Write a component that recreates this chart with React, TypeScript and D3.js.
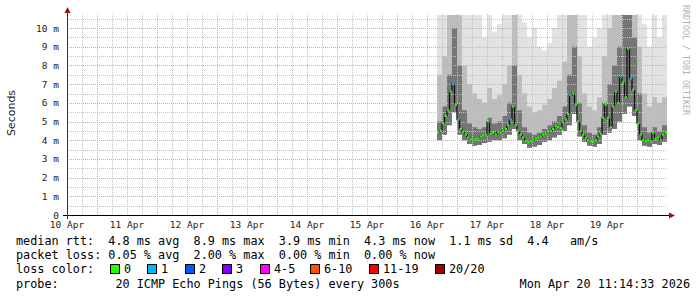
import React from "react";
import * as d3 from "d3";

// ---------- data ----------
const xDayLabels = ["10 Apr", "11 Apr", "12 Apr", "13 Apr", "14 Apr", "15 Apr", "16 Apr", "17 Apr", "18 Apr", "19 Apr"];
const yTickValues = [0, 1, 2, 3, 4, 5, 6, 7, 8, 9, 10];
const yTickLabels = ["0", "1 m", "2 m", "3 m", "4 m", "5 m", "6 m", "7 m", "8 m", "9 m", "10 m"];

// hours since 10 Apr 12:00, one value per hour
const medianStartHour = 148;
const medianRtt = [
  4.4, 4.5, 4.9, 5.3, 5.6, 6.6, 7.0, 5.9, 5.1, 4.6,
  4.45, 4.3, 4.15, 4.05, 4.0, 4.05, 4.1, 4.2, 4.25, 4.3,
  5.0, 4.35, 4.4, 4.3, 4.45, 4.4, 4.5, 4.6, 4.8, 5.1,
  5.8, 4.8, 4.5, 4.3, 4.15, 3.95, 3.9, 3.95, 4.0, 4.1,
  4.15, 4.2, 4.3, 4.35, 4.45, 4.5, 4.6, 4.75, 4.7, 4.65,
  4.95, 5.1, 5.4, 6.4, 6.5, 5.9, 5.0, 4.5, 4.3, 4.1,
  4.0, 3.95, 3.95, 4.0, 4.2, 4.35, 5.2, 5.9, 5.2, 4.7,
  5.8, 6.6, 6.0, 7.4, 7.1, 6.3, 8.9, 7.3, 6.7, 5.6,
  4.9, 4.3, 4.0, 3.95, 4.0, 3.95, 4.4, 4.1, 4.15, 4.0,
  4.3, 4.4,
];
const lossCount = [
  0, 0, 0, 0, 0, 0, 1, 0, 1, 0,
  0, 0, 0, 0, 0, 0, 0, 0, 0, 0,
  0, 0, 0, 0, 0, 0, 0, 0, 0, 1,
  0, 0, 0, 0, 0, 0, 0, 0, 0, 0,
  0, 0, 0, 0, 0, 0, 0, 0, 0, 0,
  0, 0, 0, 1, 0, 0, 0, 0, 0, 0,
  0, 0, 0, 0, 0, 0, 0, 0, 0, 0,
  0, 0, 0, 1, 0, 0, 0, 1, 0, 0,
  0, 0, 0, 0, 0, 0, 0, 0, 0, 0,
  0, 0,
];

// smoke, one value per 2 hours
const smokeStartHour = 148;
const smokeStepHours = 2;
const smokeLow = [
  4.0, 4.3, 4.8, 5.5, 4.3, 4.0, 3.8, 3.7, 3.75, 3.85,
  3.9, 4.0, 4.0, 4.1, 4.3, 4.6, 4.0, 3.8, 3.6, 3.65,
  3.75, 3.9, 4.0, 4.15, 4.3, 4.5, 4.8, 5.4, 4.2, 3.9,
  3.7, 3.65, 3.8, 4.3, 4.4, 4.6, 5.0, 5.4, 5.8, 5.3,
  4.0, 3.7, 3.65, 3.8, 3.75, 3.9,
];
const smokeDark = [
  5.0, 5.8, 7.5, 10.0, 8.0, 5.6, 4.9, 4.7, 4.6, 4.7,
  5.2, 4.9, 5.0, 5.3, 6.0, 8.0, 5.6, 4.7, 4.4, 4.3,
  4.4, 4.6, 4.8, 5.0, 5.3, 5.8, 7.5, 9.0, 6.0, 4.8,
  4.4, 4.3, 4.7, 6.0, 7.0, 8.0, 9.0, 10.7, 10.7, 9.5,
  6.5, 4.7, 4.4, 4.7, 4.5, 4.8,
];
const smokeMid = [
  7.5, 8.5, 10.7, 10.7, 10.7, 8.0, 7.0, 6.5, 6.2, 6.0,
  6.8, 6.2, 6.4, 7.0, 8.0, 10.7, 7.5, 6.5, 5.8, 5.5,
  5.6, 5.9, 6.2, 6.8, 7.2, 8.2, 10.7, 10.7, 8.5, 6.5,
  5.8, 5.6, 6.3, 8.5, 10.0, 10.7, 10.7, 10.7, 10.7, 10.7,
  9.0, 6.5, 5.8, 6.3, 6.0, 6.3,
];
const smokeMax = [
  10.7, 10.7, 10.7, 10.7, 10.7, 10.7, 10.7, 10.7, 10.7, 9.5,
  10.7, 9.8, 10.2, 10.7, 10.7, 10.7, 10.7, 10.3, 9.5, 10.0,
  9.0, 8.8, 9.2, 10.0, 10.7, 10.7, 10.7, 10.7, 10.7, 10.7,
  9.0, 9.5, 10.0, 10.7, 10.7, 10.7, 10.7, 10.7, 10.7, 10.7,
  10.7, 10.2, 9.0, 10.7, 9.5, 10.7,
];

const lossLegendLabels = ["0", "1", "2", "3", "4-5", "6-10", "11-19", "20/20"];
const lossLegendColors = ["#26ff00", "#00b8ff", "#0059ff", "#7e00ff", "#ff00ff", "#ff5500", "#ff0000", "#a10000"];
const lossLegendX = [110, 147, 185, 222, 260, 310, 369, 435];

const legendRows = [
  "median rtt:  4.8 ms avg  8.9 ms max  3.9 ms min  4.3 ms now  1.1 ms sd  4.4   am/s",
  "packet loss: 0.05 % avg  2.00 % max  0.00 % min  0.00 % now",
];
const probeText = "probe:        20 ICMP Echo Pings (56 Bytes) every 300s";
const dateText = "Mon Apr 20 11:14:33 2026";

// ---------- chart ----------
const MONO = "'DejaVu Sans Mono', monospace";

export default function App() {
  const W = 697;
  const H = 297;
  const yMax = 10.7;
  const x = d3.scaleLinear().domain([0, 240]).range([67, 667]);
  const y = d3.scaleLinear().domain([0, yMax]).range([215, 15]);

  type SP = { h: number; lo: number; dk: number; md: number; mx: number };
  const smokePts: SP[] = smokeLow.map((lo, i) => ({
    h: smokeStartHour + i * smokeStepHours,
    lo,
    dk: smokeDark[i],
    md: smokeMid[i],
    mx: smokeMax[i],
  }));
  const lastS = smokePts[smokePts.length - 1];
  smokePts.push({ ...lastS, h: lastS.h + smokeStepHours });

  const band = (top: (d: SP) => number) =>
    d3
      .area<SP>()
      .x((d) => x(d.h))
      .y0((d) => y(d.lo))
      .y1((d) => y(Math.min(top(d), yMax)))
      .curve(d3.curveStepAfter)(smokePts) || "";

  const medPts = medianRtt.map((v, i) => ({ h: medianStartHour + i, v }));
  const medLine =
    d3
      .line<{ h: number; v: number }>()
      .x((d) => x(d.h + 0.5))
      .y((d) => y(d.v))
      .curve(d3.curveStep)(medPts) || "";

  const hMinor = d3.range(0.5, yMax, 1);
  const hMajor = yTickValues.filter((v) => v > 0);
  const vMinor = d3.range(6, 240, 6).filter((h) => (h - 12) % 24 !== 0);
  const vMajor = d3.range(12, 240, 24);

  const lossColor = (n: number) => lossLegendColors[Math.min(n, lossLegendColors.length - 1)];

  return (
    <svg
      width={W}
      height={H}
      style={{ position: "absolute", left: 0, top: 0, background: "#fff" }}
      xmlns="http://www.w3.org/2000/svg"
    >
      <rect x={0} y={0} width={W} height={H} fill="#fff" />

      {/* smoke */}
      <path d={band((d) => d.mx)} fill="#e2e2e2" />
      <path d={band((d) => d.md)} fill="#bdbdbd" />
      <path d={band((d) => d.dk)} fill="#767676" />

      {/* grid */}
      <g shapeRendering="crispEdges">
        {hMinor.map((v) => (
          <line key={"hm" + v} x1={67} x2={667} y1={Math.round(y(v)) + 0.5} y2={Math.round(y(v)) + 0.5}
            stroke="#c4c4c4" strokeDasharray="1,1" />
        ))}
        {vMinor.map((h) => (
          <line key={"vm" + h} x1={Math.round(x(h)) + 0.5} x2={Math.round(x(h)) + 0.5} y1={14} y2={215}
            stroke="#c4c4c4" strokeDasharray="1,1" />
        ))}
        {hMajor.map((v) => (
          <line key={"hM" + v} x1={67} x2={667} y1={Math.round(y(v)) + 0.5} y2={Math.round(y(v)) + 0.5}
            stroke="#e8a0a0" strokeDasharray="1,1" />
        ))}
        {vMajor.map((h) => (
          <line key={"vM" + h} x1={Math.round(x(h)) + 0.5} x2={Math.round(x(h)) + 0.5} y1={14} y2={215}
            stroke="#e8a0a0" strokeDasharray="1,1" />
        ))}
      </g>

      {/* median */}
      <path d={medLine} fill="none" stroke="#111" strokeWidth={1.3} />
      {medPts.map((d, i) => (
        <rect key={"m" + i} x={x(d.h)} y={y(d.v) - 1} width={x(d.h + 1) - x(d.h)} height={2}
          fill={lossColor(lossCount[i])} />
      ))}

      {/* axes */}
      <g shapeRendering="crispEdges">
        <line x1={63} x2={670} y1={215.5} y2={215.5} stroke="#000" />
        <line x1={67.5} x2={67.5} y1={219} y2={12} stroke="#333" />
      </g>
      <path d="M669,212.5 L675,215.5 L669,218.5 Z" fill="#a01010" />
      <path d="M64.5,13 L67.5,7 L70.5,13 Z" fill="#a01010" />

      {/* y labels */}
      {yTickValues.map((v, i) => (
        <text key={"yl" + v} x={59} y={y(v) + 3.5} textAnchor="end" fontFamily={MONO} fontSize={9.5} fill="#222">
          {yTickLabels[i]}
        </text>
      ))}
      {/* x labels */}
      {xDayLabels.map((l, i) => (
        <text key={"xl" + l} x={x(i * 24)} y={228} textAnchor="middle" fontFamily={MONO} fontSize={9.5} fill="#222">
          {l}
        </text>
      ))}

      <text transform="translate(15,113) rotate(-90)" textAnchor="middle" fontFamily="'DejaVu Sans', sans-serif"
        fontSize={11} fill="#222">
        Seconds
      </text>
      <text transform="translate(683,5) rotate(90)" fontFamily={MONO} fontSize={8.3} fill="#b0b0b0">
        RRDTOOL / TOBI OETIKER
      </text>

      {/* legend */}
      {legendRows.map((r, i) => (
        <text key={"lr" + i} x={16} y={245 + i * 14} fontFamily={MONO} fontSize={11.8} fill="#000"
          style={{ whiteSpace: "pre" }}>
          {r}
        </text>
      ))}
      <text x={16} y={273} fontFamily={MONO} fontSize={11.8} fill="#000">loss color:</text>
      {lossLegendLabels.map((l, i) => (
        <g key={"lc" + i}>
          <rect x={lossLegendX[i] + 0.5} y={264.5} width={9} height={9} fill={lossLegendColors[i]} stroke="#000"
            shapeRendering="crispEdges" />
          <text x={lossLegendX[i] + 14} y={273} fontFamily={MONO} fontSize={11.8} fill="#000">{l}</text>
        </g>
      ))}
      <text x={16} y={288} fontFamily={MONO} fontSize={11.8} fill="#000" style={{ whiteSpace: "pre" }}>
        {probeText}
      </text>
      <text x={690} y={288} textAnchor="end" fontFamily={MONO} fontSize={11.8} fill="#000">
        {dateText}
      </text>
    </svg>
  );
}
